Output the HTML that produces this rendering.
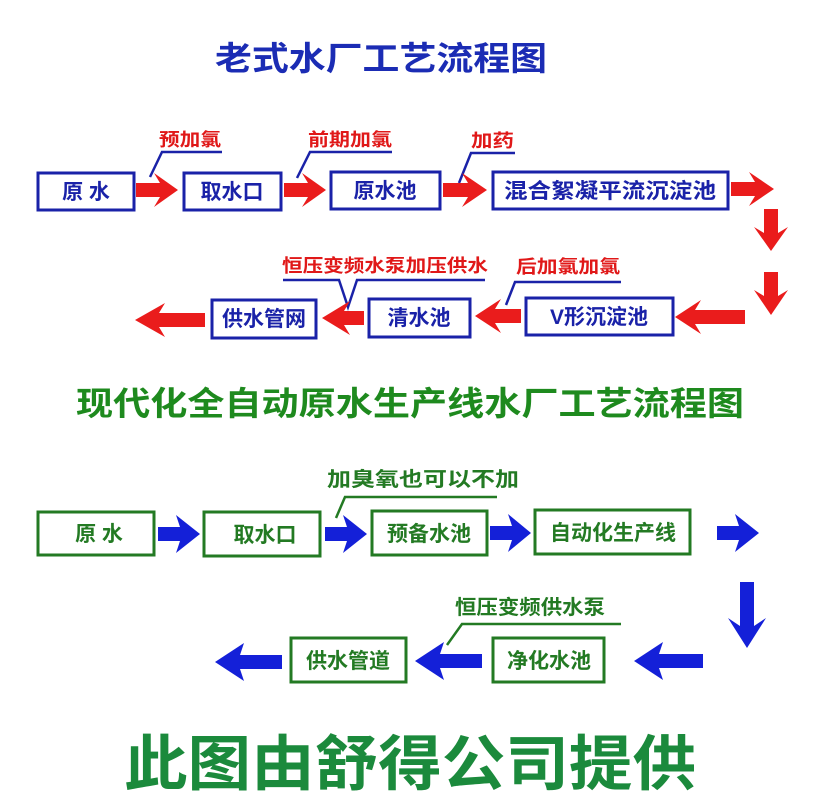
<!DOCTYPE html>
<html><head><meta charset="utf-8"><style>
html,body{margin:0;padding:0;background:#fff;}
svg{display:block;}
text{font-family:"Liberation Sans","Noto Sans CJK SC","WenQuanYi Zen Hei",sans-serif;font-weight:bold;}
</style></head><body>
<svg width="822" height="799" viewBox="0 0 822 799" xmlns="http://www.w3.org/2000/svg">
<rect width="822" height="799" fill="#fff"/>
<text x="215" y="70" font-size="33" fill="#1b2cb4" textLength="332" lengthAdjust="spacingAndGlyphs">老式水厂工艺流程图</text>

<g fill="none" stroke="#1a22a8" stroke-width="3">
<rect x="38" y="173" width="96" height="37"/>
<rect x="184" y="173" width="97" height="37"/>
<rect x="331" y="172" width="109" height="37"/>
<rect x="493" y="172" width="235" height="37"/>
<rect x="526" y="298" width="147" height="37"/>
<rect x="369" y="299" width="101" height="38"/>
<rect x="212" y="300" width="104" height="38"/>
</g>
<g font-size="21" fill="#1a22a8" text-anchor="middle">
<text x="86" y="199">原 水</text>
<text x="232" y="199">取水口</text>
<text x="385" y="198">原水池</text>
<text x="610" y="198" textLength="212" lengthAdjust="spacingAndGlyphs">混合絮凝平流沉淀池</text>
<text x="599" y="324">V形沉淀池</text>
<text x="419" y="325">清水池</text>
<text x="264" y="326">供水管网</text>
</g>

<g font-size="18" fill="#e01818">
<text x="159" y="146" textLength="62" lengthAdjust="spacingAndGlyphs">预加氯</text>
<text x="308" y="146" textLength="84" lengthAdjust="spacingAndGlyphs">前期加氯</text>
<text x="471" y="147" textLength="43" lengthAdjust="spacingAndGlyphs">加药</text>
<text x="282" y="272" textLength="206" lengthAdjust="spacingAndGlyphs">恒压变频水泵加压供水</text>
<text x="516" y="273" textLength="104" lengthAdjust="spacingAndGlyphs">后加氯加氯</text>
</g>
<g fill="none" stroke="#1a22a8" stroke-width="2.5">
<polyline points="150,177 162,152 222,152"/>
<polyline points="297,178 310,152 392,152"/>
<polyline points="459,183 471,153 515,153"/>
<polyline points="283,280 339,280 348,307 357,280 485,280"/>
<polyline points="506,305 515,282 621,282"/>
</g>

<g fill="#ea1c1c">
<polygon transform="translate(136,190)" points="0,-7 24,-7 18,-17 42,0 18,17 24,7 0,7"/>
<polygon transform="translate(284,190)" points="0,-7 24,-7 18,-17 42,0 18,17 24,7 0,7"/>
<polygon transform="translate(443,190)" points="0,-7 25,-7 19,-17 44,0 19,17 25,7 0,7"/>
<polygon transform="translate(731,189)" points="0,-7 24,-7 18,-17 43,0 18,17 24,7 0,7"/>
<polygon transform="translate(771,209) rotate(90)" points="0,-7 24,-7 18,-17 42,0 18,17 24,7 0,7"/>
<polygon transform="translate(771,272) rotate(90)" points="0,-7 24,-7 18,-17 43,0 18,17 24,7 0,7"/>
<polygon transform="translate(745,317) rotate(180)" points="0,-7 50,-7 44,-17 70,0 44,17 50,7 0,7"/>
<polygon transform="translate(521,316) rotate(180)" points="0,-7 26,-7 20,-17 46,0 20,17 26,7 0,7"/>
<polygon transform="translate(364,318) rotate(180)" points="0,-7 20,-7 14,-17 42,0 14,17 20,7 0,7"/>
<polygon transform="translate(205,320) rotate(180)" points="0,-7 46,-7 40,-17 70,0 40,17 46,7 0,7"/>
</g>

<text x="76" y="415" font-size="33" fill="#1e8a1e" textLength="668" lengthAdjust="spacingAndGlyphs">现代化全自动原水生产线水厂工艺流程图</text>

<g fill="none" stroke="#237a23" stroke-width="3">
<rect x="38" y="512" width="116" height="43"/>
<rect x="204" y="512" width="116" height="44"/>
<rect x="372" y="511" width="115" height="44"/>
<rect x="535" y="510" width="155" height="44"/>
<rect x="291" y="638" width="115" height="44"/>
<rect x="493" y="638" width="111" height="44"/>
</g>
<g font-size="21" fill="#237a23" text-anchor="middle">
<text x="99" y="541">原 水</text>
<text x="265" y="542">取水口</text>
<text x="429" y="541">预备水池</text>
<text x="613" y="540">自动化生产线</text>
<text x="348" y="668">供水管道</text>
<text x="549" y="668">净化水池</text>
</g>
<g font-size="20" fill="#237a23">
<text x="327" y="486" textLength="192" lengthAdjust="spacingAndGlyphs">加臭氧也可以不加</text>
<text x="455" y="614" textLength="150" lengthAdjust="spacingAndGlyphs">恒压变频供水泵</text>
</g>
<g fill="none" stroke="#237a23" stroke-width="2.5">
<polyline points="336,518 345,497 497,497"/>
<polyline points="447,645 462,624 621,624"/>
</g>

<g fill="#1420d8">
<polygon transform="translate(158,534)" points="0,-7 22,-7 18,-19 42,0 18,19 22,7 0,7"/>
<polygon transform="translate(325,534)" points="0,-7 22,-7 18,-19 42,0 18,19 22,7 0,7"/>
<polygon transform="translate(490,533)" points="0,-7 22,-7 18,-19 41,0 18,19 22,7 0,7"/>
<polygon transform="translate(717,533)" points="0,-7 22,-7 18,-19 42,0 18,19 22,7 0,7"/>
<polygon transform="translate(747,582) rotate(90)" points="0,-7 44,-7 36,-19 66,0 36,19 44,7 0,7"/>
<polygon transform="translate(703,661) rotate(180)" points="0,-7 44,-7 40,-19 69,0 40,19 44,7 0,7"/>
<polygon transform="translate(482,661) rotate(180)" points="0,-7 42,-7 38,-19 67,0 38,19 42,7 0,7"/>
<polygon transform="translate(282,662) rotate(180)" points="0,-7 42,-7 38,-19 67,0 38,19 42,7 0,7"/>
</g>

<text x="124" y="785" font-size="60" fill="#1b8a3c" textLength="572" lengthAdjust="spacingAndGlyphs">此图由舒得公司提供</text>
</svg>
</body></html>
